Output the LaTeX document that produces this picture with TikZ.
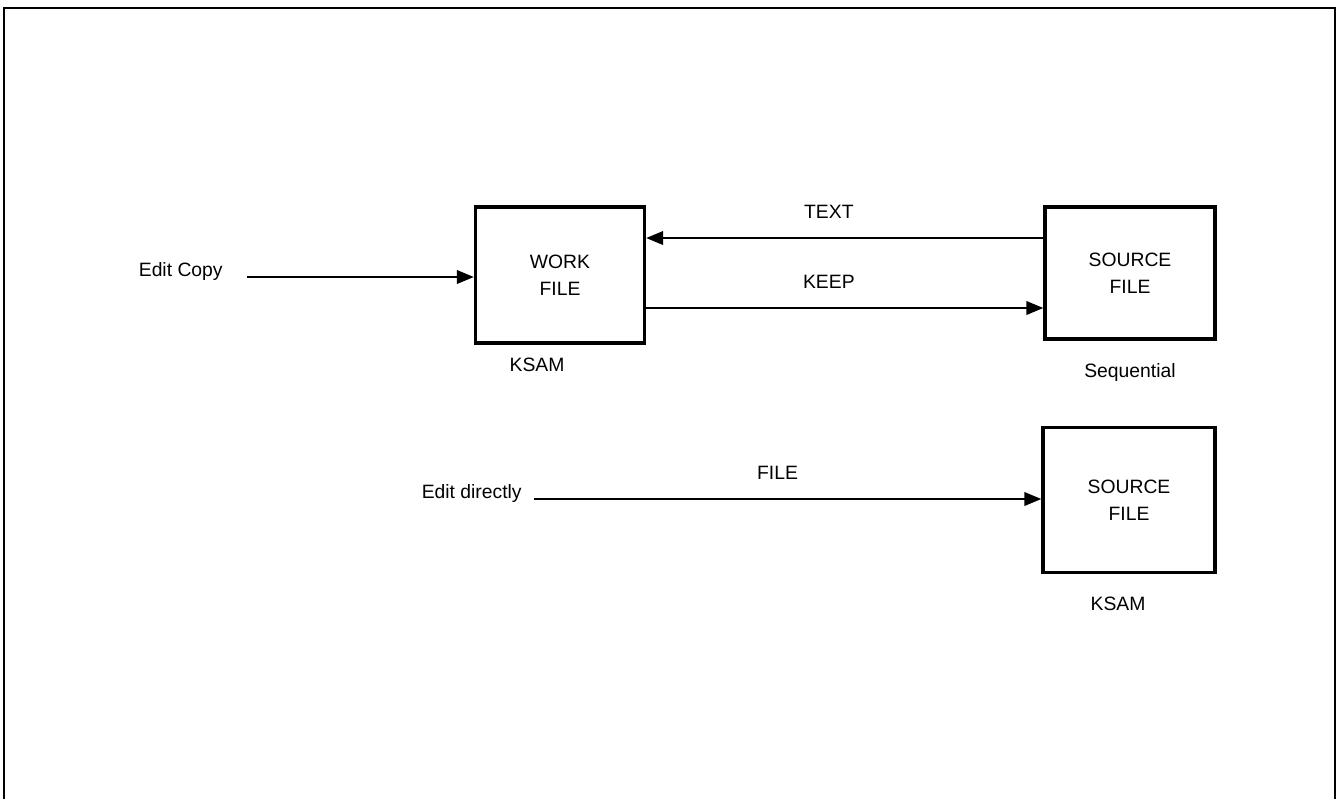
\documentclass[tikz,border=0pt]{standalone}
\usepackage{fontspec}
\setmainfont{Liberation Sans}
\usetikzlibrary{positioning,arrows.meta}

\begin{document}
\begin{tikzpicture}[x=0.02cm,y=-0.02cm,
  filebox/.style={draw,line width=1.9pt,align=center,font=\fontsize{11}{15.5}\selectfont},
  flow/.style={line width=1.25pt,-{Triangle[length=0.34cm,width=0.27cm]}},
  tag/.style={font=\fontsize{11}{13}\selectfont,inner sep=0pt,text depth=0pt}]
\useasboundingbox (0,0) rectangle (1339,799);
\draw[line width=.6pt] (4,799)--(4,8)--(1335,8)--(1335,799);
% the three files
\node[filebox,minimum width=3.38cm,minimum height=2.72cm] (work) at (560,275) {WORK\\FILE};
\node[filebox,minimum width=3.4cm,minimum height=2.64cm] (src1) at (1130,273) {SOURCE\\FILE};
\node[filebox,minimum width=3.44cm,minimum height=2.9cm] (src2) at (1129,500) {SOURCE\\FILE};
\node[tag,below=0.26cm of work,xshift=-0.46cm] (ksam1) {KSAM};
\node[tag,below=0.44cm of src1] (seq) {Sequential};
\node[tag,below=0.44cm of src2,xshift=-0.22cm] (ksam2) {KSAM};
% copy route
\draw[flow] ([yshift=0.7cm]src1.west) -- ([yshift=0.7cm]src1.west -| work.east) node[tag,pos=0.54,above=0.36cm] {TEXT};
\draw[flow] ([yshift=-0.66cm]work.east) -- ([yshift=-0.66cm]work.east -| src1.west) node[tag,pos=0.46,above=0.36cm] {KEEP};
\node[tag,anchor=south east] (copy) at (223,277) {Edit Copy};
\draw[flow] ([xshift=0.48cm]copy.south east) -- (copy.south east -| work.west);
% direct route
\node[tag,anchor=south east] (direct) at (522,499) {Edit directly};
\draw[flow] ([xshift=0.24cm]direct.south east) -- (direct.south east -| src2.west) node[tag,pos=0.48,above=0.36cm] {FILE};
\end{tikzpicture}
\end{document}
